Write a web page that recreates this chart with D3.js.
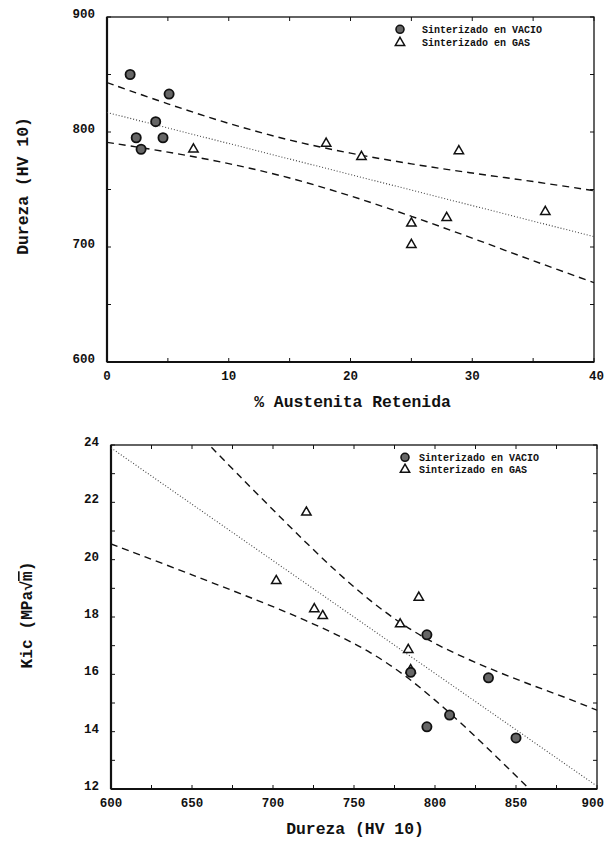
<!DOCTYPE html>
<html><head><meta charset="utf-8">
<script src="https://cdn.jsdelivr.net/npm/d3@7/dist/d3.min.js"></script>
<style>
html,body{margin:0;padding:0;background:#fff;}
svg text{font-family:"Liberation Mono","DejaVu Sans Mono",monospace;font-weight:bold;fill:#111;}
</style></head>
<body><svg id="c" width="605" height="842"></svg>
<script>
// ---------- DATA ----------
const seriesNames = ["Sinterizado en VACIO", "Sinterizado en GAS"];
// Top chart: % austenita retenida vs dureza
const vacioAustenita = [1.9, 5.1, 4.0, 2.4, 4.6, 2.8];
const vacioDureza    = [850, 833, 809, 795, 795, 785];
const gasAustenita   = [7.1, 18.0, 20.9, 28.9, 36.0, 27.9, 25.0, 25.0];
const gasDureza      = [785, 790, 778.5, 783.5, 730.7, 725.5, 720.6, 702];
// Bottom chart: dureza vs Kic
const vacioKic = [13.78, 15.88, 14.58, 17.38, 14.17, 16.07];
const gasKic   = [16.15, 18.68, 17.75, 16.86, 18.04, 18.28, 21.65, 19.26];

// fit / confidence lines, top chart
const topFitX = [0, 40], topFitY = [817, 709];
const topBandX = [0, 5, 10, 15, 20, 25, 30, 35, 40];
const topUpperY = [843, 824.5, 807.5, 793, 781.6, 772.3, 764.3, 756.9, 749];
const topLowerY = [791, 782.5, 772.5, 760, 744.4, 726.7, 707.7, 688.1, 669];
// fit / confidence lines, bottom chart
const botFitX = [600, 900], botFitY = [23.9, 12.1];
const botUpperX = [662, 680, 700, 720, 740, 760, 780, 800, 820, 840, 860, 880, 900];
const botUpperY = [23.92, 22.88, 21.74, 20.62, 19.55, 18.58, 17.75, 17.08, 16.54, 16.06, 15.62, 15.2, 14.75];
const botLowerX = [600, 650, 700, 720, 740, 760, 780, 800, 820, 840, 860];
const botLowerY = [20.55, 19.47, 18.36, 17.88, 17.36, 16.76, 16.01, 15.1, 14.09, 13.01, 11.9];

// ticks
const topXTicks = [0, 10, 20, 30, 40];
const topYTicks = [600, 700, 800, 900];
const botXTicks = [600, 650, 700, 750, 800, 850, 900];
const botYTicks = [12, 14, 16, 18, 20, 22, 24];
const topTitleX = "% Austenita Retenida", topTitleY = "Dureza (HV 10)";
const botTitleX = "Dureza (HV 10)";

// ---------- DRAW ----------
const svg = d3.select("#c");
svg.append("rect").attr("width",605).attr("height",842).attr("fill","#fff");

function panel(cfg){
  const g = svg.append("g");
  const x = d3.scaleLinear().domain(cfg.xd).range(cfg.xr);
  const y = d3.scaleLinear().domain(cfg.yd).range(cfg.yr);
  const id = "clip"+cfg.id;
  svg.append("clipPath").attr("id",id).append("rect")
    .attr("x",cfg.xr[0]).attr("y",cfg.yr[1]).attr("width",cfg.xr[1]-cfg.xr[0]).attr("height",cfg.yr[0]-cfg.yr[1]);
  // ticks inward on four sides
  const tk = g.append("g").attr("stroke","#111").attr("stroke-width",1);
  d3.range(cfg.xd[0], cfg.xd[1]+1e-9, cfg.xminor).forEach(v=>{
    const L = 4;
    tk.append("line").attr("x1",x(v)).attr("x2",x(v)).attr("y1",cfg.yr[0]).attr("y2",cfg.yr[0]-L);
    tk.append("line").attr("x1",x(v)).attr("x2",x(v)).attr("y1",cfg.yr[1]).attr("y2",cfg.yr[1]+L);
  });
  d3.range(cfg.yd[0], cfg.yd[1]+1e-9, cfg.yminor).forEach(v=>{
    const L = 4;
    tk.append("line").attr("y1",y(v)).attr("y2",y(v)).attr("x1",cfg.xr[0]).attr("x2",cfg.xr[0]+L);
    tk.append("line").attr("y1",y(v)).attr("y2",y(v)).attr("x1",cfg.xr[1]).attr("x2",cfg.xr[1]-L);
  });
  // frame
  g.append("rect").attr("x",cfg.xr[0]).attr("y",cfg.yr[1]).attr("width",cfg.xr[1]-cfg.xr[0]).attr("height",cfg.yr[0]-cfg.yr[1])
    .attr("fill","none").attr("stroke","#111").attr("stroke-width",1.3);
  g.append("line").attr("x1",cfg.xr[0]).attr("x2",cfg.xr[0]).attr("y1",cfg.yr[1]).attr("y2",cfg.yr[0]).attr("stroke","#111").attr("stroke-width",2.2);
  g.append("line").attr("x1",cfg.xr[0]).attr("x2",cfg.xr[1]).attr("y1",cfg.yr[0]).attr("y2",cfg.yr[0]).attr("stroke","#111").attr("stroke-width",1.8);
  // tick labels
  cfg.xt.forEach((v,i)=>{
    const last = i===cfg.xt.length-1 && x(v)+17>605;
    g.append("text").attr("x", last ? 604 : x(v)).attr("y",cfg.yr[0]+18)
      .attr("text-anchor", last ? "end" : "middle").attr("font-size",12.5).text(v);
  });
  cfg.yt.forEach(v=>g.append("text").attr("x",cfg.xr[0]-12).attr("y",y(v)+1).attr("text-anchor","end").attr("font-size",12.5).text(v));
  // lines
  const lg = g.append("g").attr("clip-path",`url(#${id})`).attr("fill","none");
  const line = d3.line().x(d=>x(d[0])).y(d=>y(d[1])).curve(d3.curveCatmullRom);
  lg.append("path").attr("d",line(d3.zip(cfg.fitX,cfg.fitY))).attr("stroke","#444").attr("stroke-width",1.1).attr("stroke-dasharray","1,2");
  lg.append("path").attr("d",line(d3.zip(cfg.upX,cfg.upY))).attr("stroke","#111").attr("stroke-width",1.4).attr("stroke-dasharray","7,5");
  lg.append("path").attr("d",line(d3.zip(cfg.loX,cfg.loY))).attr("stroke","#111").attr("stroke-width",1.4).attr("stroke-dasharray","7,5");
  // points
  const tri = d3.symbol().type(d3.symbolTriangle).size(38);
  d3.zip(cfg.gx,cfg.gy).forEach(d=>{
    g.append("path").attr("d",tri()).attr("transform",`translate(${x(d[0])},${y(d[1])})`)
      .attr("fill","#fff").attr("stroke","#111").attr("stroke-width",1.5);
  });
  d3.zip(cfg.vx,cfg.vy).forEach(d=>{
    g.append("circle").attr("cx",x(d[0])).attr("cy",y(d[1])).attr("r",4.6)
      .attr("fill","#666").attr("stroke","#111").attr("stroke-width",1.8);
  });
  // legend
  const lx = cfg.legX, ly = cfg.legY, sp = cfg.legSp;
  g.append("circle").attr("cx",lx).attr("cy",ly).attr("r",4).attr("fill","#666").attr("stroke","#111").attr("stroke-width",1.6);
  g.append("path").attr("d",tri()).attr("transform",`translate(${lx},${ly+sp})`).attr("fill","#fff").attr("stroke","#111").attr("stroke-width",1.5);
  seriesNames.forEach((s,i)=>g.append("text").attr("x",lx+cfg.legDx).attr("y",ly+i*sp+3.5).attr("font-size",10).text(s));
  // titles
  g.append("text").attr("x",(cfg.xr[0]+cfg.xr[1])/2+cfg.xtOff).attr("y",cfg.yr[0]+45).attr("text-anchor","middle").attr("font-size",16.4).text(cfg.titleX);
  return {g,x,y};
}

panel({id:"t", xd:[0,40], yd:[600,900], xr:[107,594], yr:[362,17], xminor:5, yminor:50,
  xt:topXTicks, yt:topYTicks, fitX:topFitX, fitY:topFitY, upX:topBandX, upY:topUpperY, loX:topBandX, loY:topLowerY,
  gx:gasAustenita, gy:gasDureza, vx:vacioAustenita, vy:vacioDureza,
  legX:400, legY:29.3, legSp:13.4, legDx:22, titleX:topTitleX, xtOff:2});

panel({id:"b", xd:[600,900], yd:[12,24], xr:[111,597], yr:[789,445], xminor:25, yminor:1,
  xt:botXTicks, yt:botYTicks, fitX:botFitX, fitY:botFitY, upX:botUpperX, upY:botUpperY, loX:botLowerX, loY:botLowerY,
  gx:gasDureza, gy:gasKic, vx:vacioDureza, vy:vacioKic,
  legX:405, legY:457.3, legSp:12.3, legDx:14, titleX:botTitleX, xtOff:1});

// rotated y titles
svg.append("text").attr("transform","translate(28,186) rotate(-90)").attr("text-anchor","middle").attr("font-size",16.4).text(topTitleY);
const ky = svg.append("text").attr("transform","translate(32,615) rotate(-90)").attr("text-anchor","middle").attr("font-size",16.2);
ky.append("tspan").text("Kic (MPa");
ky.append("tspan").text("√");
ky.append("tspan").attr("text-decoration","overline").text("m");
ky.append("tspan").text(")");
</script></body></html>
